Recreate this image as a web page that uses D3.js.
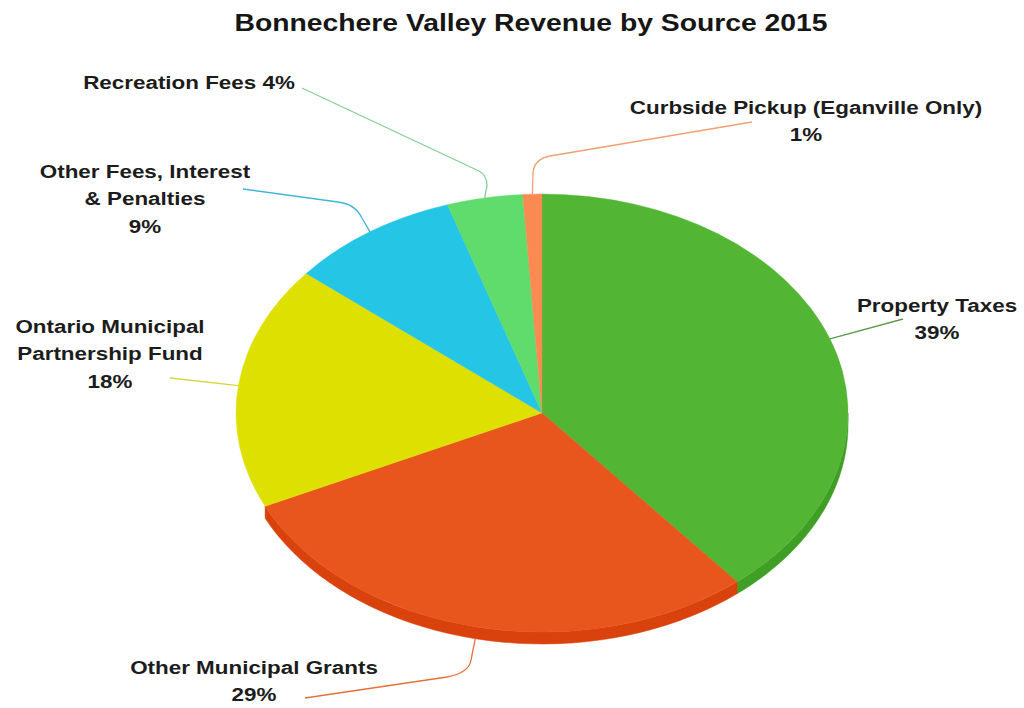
<!DOCTYPE html>
<meta charset="utf-8">
<style>
  body {
    margin: 0;
    background: #fff;
  }

  text {
    font-family: "Liberation Sans", Arial, sans-serif;
    font-weight: bold;
    fill: #1c1c1c;
  }
</style>

<body>
  <svg width="1024" height="708"></svg>

  <script src="https://d3js.org/d3.v7.min.js"></script>
  <script>
    var title = "Bonnechere Valley Revenue by Source 2015";

    var categories = [
      "Property Taxes",
      "Other Municipal Grants",
      "Ontario Municipal Partnership Fund",
      "Other Fees, Interest & Penalties",
      "Recreation Fees",
      "Curbside Pickup (Eganville Only)"
    ];

    var values = [39, 29, 18, 9, 4, 1];

    var topColors = ["#52b534", "#e8561d", "#dde000", "#24c5e5", "#5fdc6c", "#f98b52"];
    var sideColors = ["#3f9e24", "#d9420d", "#c4c600", "#1aa9c8", "#4cc45a", "#e2733d"];
    var lineColors = ["#5c9a4a", "#e5703c", "#d6d640", "#3fb6d6", "#86cf92", "#efa074"];

    // label placement: line centres, text lines ({p} = percent), leader bends
    var labelLayout = [
      { x: 937, y: 305, lines: ["Property Taxes", "{p}"], path: [[903, 319]] },
      { x: 254, y: 667, lines: ["Other Municipal Grants", "{p}"], path: [[471, 660], [469, 673, 447, 677], [305, 698]] },
      { x: 110, y: 326, lines: ["Ontario Municipal", "Partnership Fund", "{p}"], path: [[170, 378]] },
      { x: 145, y: 171, lines: ["Other Fees, Interest", "& Penalties", "{p}"], path: [[362, 218], [355, 204, 338, 202], [243, 189]] },
      { x: 189, y: 82, lines: ["Recreation Fees {p}"], path: [[487, 186], [487, 175, 479, 171], [302, 88]] },
      { x: 806, y: 107, lines: ["Curbside Pickup (Eganville Only)", "{p}"], path: [[533, 173], [534, 159, 550, 156], [752, 122]] }
    ];

    var svg = d3.select("svg");
    var cx = 542, cy = 413, rx = 306, ry = 219, depth = 12;
    var sideFrom = Math.PI * 0.5, sideTo = Math.PI * 1.36; // visible part of the wall
    var sx = 1.18; // source picture is stretched horizontally

    var data = categories.map(function(c, i) {
      return { name: c, value: values[i], i: i };
    });

    var pie = d3.pie()
      .sort(null)
      .value(function(d) { return d.value; });
    var arcs = pie(data);

    function rim(a, dy) {
      return [cx + rx * Math.sin(a), cy - ry * Math.cos(a) + (dy || 0)];
    }

    // side walls
    var sideG = svg.append("g");
    arcs.forEach(function(d) {
      var a0 = Math.max(d.startAngle, sideFrom);
      var a1 = Math.min(d.endAngle, sideTo);
      if (a1 <= a0) return;
      var top = d3.range(0, 41).map(function(k) { return rim(a0 + (a1 - a0) * k / 40, 0); });
      var bot = top.map(function(p) { return [p[0], p[1] + depth]; }).reverse();
      sideG.append("path")
        .attr("d", d3.line()(top.concat(bot)) + "Z")
        .attr("fill", sideColors[d.data.i])
        .attr("stroke", sideColors[d.data.i])
        .attr("stroke-width", 0.5);
    });

    // top face
    var arc = d3.arc().innerRadius(0).outerRadius(rx);
    svg.append("g")
      .attr("transform", "translate(" + cx + "," + cy + ") scale(1," + (ry / rx) + ")")
      .selectAll("path")
      .data(arcs)
      .enter().append("path")
      .attr("d", arc)
      .attr("fill", function(d) { return topColors[d.data.i]; })
      .attr("stroke", function(d) { return topColors[d.data.i]; })
      .attr("stroke-width", 0.5);

    // leader lines
    arcs.forEach(function(d) {
      var mid = (d.startAngle + d.endAngle) / 2;
      var front = mid > sideFrom && mid < sideTo;
      var s = rim(mid, front ? depth : 0);
      var p = d3.path();
      p.moveTo(s[0], s[1]);
      labelLayout[d.data.i].path.forEach(function(q) {
        if (q.length === 4) p.quadraticCurveTo(q[0], q[1], q[2], q[3]);
        else p.lineTo(q[0], q[1]);
      });
      svg.append("path")
        .attr("d", p.toString())
        .attr("fill", "none")
        .attr("stroke", lineColors[d.data.i])
        .attr("stroke-width", 1.3);
    });

    // labels
    arcs.forEach(function(d) {
      var L = labelLayout[d.data.i];
      var g = svg.append("g")
        .attr("transform", "translate(" + L.x + "," + L.y + ") scale(" + sx + ",1)");
      var t = g.append("text")
        .attr("text-anchor", "middle")
        .style("font-size", "19px");
      L.lines.forEach(function(line, k) {
        t.append("tspan")
          .attr("x", 0)
          .attr("y", k * 27.5 + 7)
          .text(line.replace("{p}", d.data.value + "%"));
      });
    });

    // title
    svg.append("g")
      .attr("transform", "translate(531,22) scale(" + sx + ",1)")
      .append("text")
      .attr("text-anchor", "middle")
      .attr("y", 8.5)
      .style("font-size", "24px")
      .style("fill", "#161616")
      .text(title);
  </script>
</body>
